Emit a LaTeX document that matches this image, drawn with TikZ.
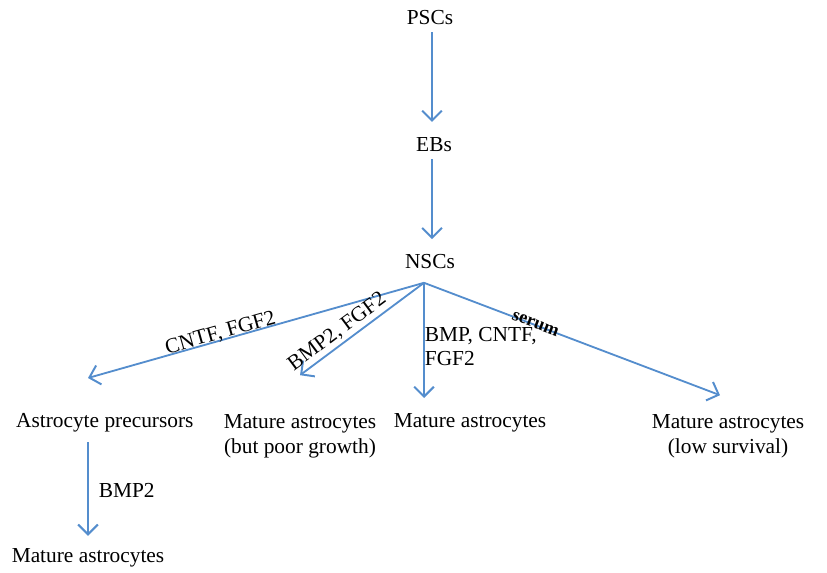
\documentclass[tikz,border=0pt]{standalone}
\usepackage{fontspec}
\setmainfont{Liberation Serif}
\usepackage{xcolor}
\usetikzlibrary{calc, positioning, arrows.meta}
\definecolor{arrblue}{RGB}{84,141,205}

\begin{document}
\begin{tikzpicture}[
    every node/.style = {font=\fontsize{15.2}{18}\selectfont, text=black},
    cell/.style = {inner sep=1pt, align=center},
    lab/.style  = {inner sep=1pt, font=\fontsize{15.2}{17}\selectfont},
    arr/.style  = {-{Straight Barb[length=7pt, width=14pt, line width=1.4pt]},
                   line width=1.3pt, arrblue},
]
\useasboundingbox (0,0) rectangle (20.675,-14.325);

% main line
\node[cell] (psc) at (10.75,-0.45) {PSCs};
\node[cell] (ebs) at (10.85,-3.62) {EBs};
\node[cell] (nsc) at (10.75,-6.55) {NSCs};
\coordinate (hub) at (10.6,-7.07);

% cell types
\node[cell] (prec)  at (2.62,-10.57) {Astrocyte precursors};
\node[cell] (mpoor) at (7.5,-10.91)  {Mature astrocytes\\(but poor growth)};
\node[cell] (mat)   at (11.75,-10.57) {Mature astrocytes};
\node[cell] (mlow)  at (18.2,-10.91) {Mature astrocytes\\(low survival)};
\node[cell] (matb)  at (2.2,-13.95)  {Mature astrocytes};

% arrow ends
\coordinate (tprec)  at (2.2,-9.45);
\coordinate (tpoor)  at (7.5,-9.38);
\coordinate (tmat)   at (10.6,-9.95);
\coordinate (tlow)   at (18.0,-9.88);

% Arrows
\draw[arr, shorten <=4pt, shorten >=10pt] (psc.south -| 10.8,0) -- (ebs.north -| 10.8,0);
\draw[arr, shorten <=4pt, shorten >=10pt] (ebs.south -| 10.8,0) -- (nsc.north -| 10.8,0);
\draw[arr] (hub) -- node[lab, sloped, above=-3pt, pos=0.6] {CNTF, FGF2} (tprec);
\draw[arr] (hub) -- node[lab, sloped, above=1pt, pos=0.64] {BMP2, FGF2} (tpoor);
\draw[arr] (hub) -- node[lab, right, align=left, pos=0.55, inner sep=0pt] {BMP, CNTF,\\FGF2} (tmat);
\draw[arr] (hub) -- node[lab, sloped, above=-4pt, pos=0.375,
    font=\fontsize{13}{15}\bfseries\selectfont] {serum} (tlow);
\draw[arr, shorten <=6pt, shorten >=8pt] (prec.south -| matb.north) -- node[lab, right=6pt] {BMP2} (matb.north);
\end{tikzpicture}
\end{document}
